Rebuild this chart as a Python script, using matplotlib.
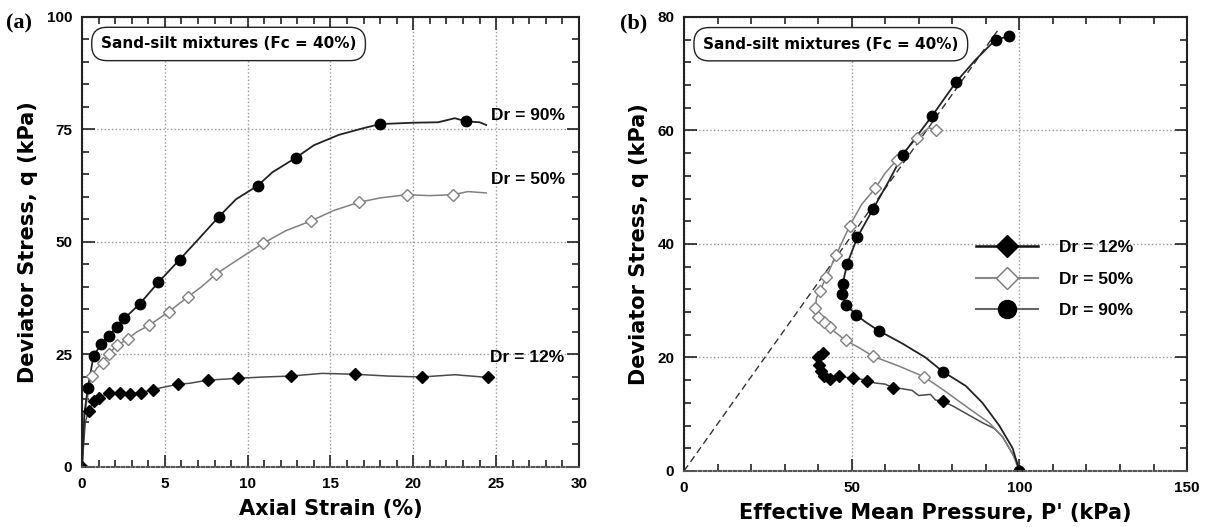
import matplotlib
matplotlib.use("Agg")
import matplotlib.pyplot as plt
from matplotlib.lines import Line2D
from matplotlib.ticker import MultipleLocator

plt.rcParams['font.family'] = ['Liberation Sans', 'DejaVu Sans']
plt.rcParams['font.weight'] = 'bold'

# ---- (a) stress-strain curves ----
# Dr = 90 %
a90_x = [0, 0.15, 0.35, 0.7, 1.16, 1.63, 2.1, 2.56, 3.5, 4.6, 5.9, 7.0, 8.26, 9.3, 10.6, 11.5,
         12.9, 14.0, 15.5, 17.0, 18.0, 20.0, 21.5, 22.5, 23.2, 24.0, 24.4]
a90_y = [0, 12, 17.6, 24.7, 27.3, 29.2, 31.1, 33.0, 36.3, 41.0, 46.1, 50.5, 55.6, 59.5, 62.5, 65.5,
         68.7, 71.5, 73.8, 75.3, 76.2, 76.5, 76.6, 77.5, 76.8, 76.6, 76.0]
a90_mx = [0.35, 0.7, 1.16, 1.63, 2.1, 2.56, 3.5, 4.6, 5.9, 8.26, 10.6, 12.9, 18.0, 23.2]
a90_my = [17.6, 24.7, 27.3, 29.2, 31.1, 33.0, 36.3, 41.0, 46.1, 55.6, 62.5, 68.7, 76.2, 76.8]
# Dr = 50 %
a50_x = [0, 0.15, 0.58, 0.9, 1.28, 1.6, 2.1, 2.8, 3.3, 4.07, 5.23, 6.4, 7.2, 8.1, 9.5, 10.93,
         12.3, 13.84, 15.2, 16.7, 18.0, 19.6, 21.0, 22.4, 23.3, 24.4]
a50_y = [0, 12, 20.2, 22.0, 23.2, 25.1, 27.0, 28.5, 30.0, 31.5, 34.5, 37.8, 40.0, 42.9, 46.3, 49.7,
         52.5, 54.7, 57.0, 58.8, 59.8, 60.5, 60.3, 60.5, 61.2, 60.9]
a50_mx = [0.58, 1.28, 1.6, 2.1, 2.8, 4.07, 5.23, 6.4, 8.1, 10.93, 13.84, 16.7, 19.6, 22.4]
a50_my = [20.2, 23.2, 25.1, 27.0, 28.5, 31.5, 34.5, 37.8, 42.9, 49.7, 54.7, 58.8, 60.5, 60.5]
# Dr = 12 %
a12_x = [0, 0.2, 0.4, 0.7, 1.05, 1.63, 2.3, 2.9, 3.56, 4.26, 5.8, 6.5, 7.6, 9.4, 11.0, 12.6,
         14.5, 16.5, 18.5, 20.5, 22.5, 24.5]
a12_y = [0, 10, 12.4, 14.6, 15.4, 16.5, 16.5, 16.3, 16.5, 17.2, 18.4, 18.6, 19.3, 19.7, 20.0, 20.2,
         20.8, 20.6, 20.2, 20.0, 20.5, 19.9]
a12_mx = [0, 0.4, 0.7, 1.05, 1.63, 2.3, 2.9, 3.56, 4.26, 5.8, 7.6, 9.4, 12.6, 16.5, 20.5, 24.5]
a12_my = [0, 12.4, 14.6, 15.4, 16.5, 16.5, 16.3, 16.5, 17.2, 18.4, 19.3, 19.7, 20.2, 20.6, 19.9, 19.9]

# ---- (b) stress paths ----
b90_p = [100, 98, 94, 89, 84, 77.2, 72, 65, 58.1, 54, 51.4, 48.2, 47.0, 47.3, 48.6, 51.7, 56.4,
         61, 65.2, 73.9, 81.2, 87, 92.9, 97.0]
b90_q = [0, 4, 8, 12, 15, 17.5, 20, 22.5, 24.7, 26.3, 27.5, 29.3, 31.1, 32.9, 36.4, 41.2, 46.2,
         51, 55.7, 62.5, 68.6, 72.5, 76.0, 76.6]
b90_mp = [100, 77.2, 58.1, 51.4, 48.2, 47.0, 47.3, 48.6, 51.7, 56.4, 65.2, 73.9, 81.2, 92.9, 97.0]
b90_mq = [0, 17.5, 24.7, 27.5, 29.3, 31.1, 32.9, 36.4, 41.2, 46.2, 55.7, 62.5, 68.6, 76.0, 76.6]

b50_p = [100, 98, 95, 91, 85, 78, 71.6, 64, 56.4, 52, 48.2, 45, 43.5, 41.8, 40.0, 39.2, 39.5,
         40.6, 42.4, 45.3, 49.4, 53, 57.0, 60, 63.4, 69.5, 73, 75.1]
b50_q = [0, 3, 6, 8.5, 11, 14, 16.6, 18.5, 20.2, 21.8, 23.0, 24.5, 25.3, 26.2, 27.1, 28.7, 30.5,
         31.8, 34.1, 38.0, 43.2, 47, 49.8, 52.5, 54.8, 58.7, 60.5, 60.0]
b50_mp = [71.6, 56.4, 48.2, 43.5, 41.8, 40.0, 39.2, 40.6, 42.4, 45.3, 49.4, 57.0, 63.4, 69.5, 75.1]
b50_mq = [16.6, 20.2, 23.0, 25.3, 26.2, 27.1, 28.7, 31.8, 34.1, 38.0, 43.2, 49.8, 54.8, 58.7, 60.0]

b12_p = [100, 99, 97, 95, 92.5, 89, 86, 83, 80, 77.1, 75, 73.5, 70, 68, 65, 62.2, 60, 57, 54.6,
         52, 50.5, 48, 46.1, 43.5, 41.8, 40.9, 40.2, 40.0, 41.4, 42.0]
b12_q = [0, 2, 4, 6, 7.5, 8.5, 9.5, 10.5, 11.5, 12.3, 12.5, 13.5, 13.3, 14.2, 14.5, 14.7, 15.3,
         15.5, 15.9, 16.3, 16.4, 16.5, 16.7, 16.2, 16.8, 17.7, 18.6, 20.1, 20.8, 21.2]
b12_mp = [100, 77.1, 62.2, 54.6, 50.5, 46.1, 43.5, 41.8, 40.9, 40.2, 40.0, 41.4]
b12_mq = [0, 12.3, 14.7, 15.9, 16.4, 16.7, 16.2, 16.8, 17.7, 18.6, 20.1, 20.8]

csl_p = [0, 94]
csl_q = [0, 78]

box_text = "Sand-silt mixtures (Fc = 40%)"
dr_labels = ["Dr = 12%", "Dr = 50%", "Dr = 90%"]

c90, c50, c12 = '#222222', '#808080', '#4a4a4a'

fig = plt.figure(figsize=(12.13, 5.27), dpi=100)
ax1 = fig.add_axes([0.0676, 0.1139, 0.4097, 0.8539])
ax2 = fig.add_axes([0.5639, 0.1063, 0.4147, 0.8615])


def style_axes(ax, xmaj, xmin, ymaj, ymin):
    ax.xaxis.set_major_locator(MultipleLocator(xmaj))
    ax.xaxis.set_minor_locator(MultipleLocator(xmin))
    ax.yaxis.set_major_locator(MultipleLocator(ymaj))
    ax.yaxis.set_minor_locator(MultipleLocator(ymin))
    ax.tick_params(which='both', direction='in', top=True, right=True, width=1.2, color='#222')
    ax.tick_params(which='major', length=9, pad=7, labelsize=11)
    ax.tick_params(which='minor', length=5)
    ax.grid(True, which='major', linestyle=':', color='#999999', linewidth=1)
    ax.set_axisbelow(True)
    for s in ['left', 'right', 'top']:
        ax.spines[s].set_linewidth(1.5)
        ax.spines[s].set_color('#222')
    ax.spines['bottom'].set_linestyle((0, (1.2, 1.2)))
    ax.spines['bottom'].set_color('#555')
    ax.spines['bottom'].set_linewidth(1.5)
    for lab in ax.get_xticklabels() + ax.get_yticklabels():
        lab.set_fontweight('bold')
    ax.text(0.038, 0.94, box_text, transform=ax.transAxes, fontsize=11, fontweight='bold',
            family='DejaVu Sans', va='center', ha='left',
            bbox=dict(boxstyle='round,pad=0.6,rounding_size=1.0', fc='white', ec='#222', lw=1))


# panel (a)
ax1.plot(a12_x, a12_y, color=c12, lw=1.1)
ax1.plot(a50_x, a50_y, color=c50, lw=1.1)
ax1.plot(a90_x, a90_y, color=c90, lw=1.3)
ax1.plot(a12_mx, a12_my, 'D', color='black', ms=6.5, ls='none')
ax1.plot(a50_mx, a50_my, 'D', mfc='white', mec=c50, mew=1, ms=6.5, ls='none')
ax1.plot(a90_mx, a90_my, 'o', color='black', ms=7.5, ls='none')
ax1.set_xlim(0, 30)
ax1.set_ylim(0, 100)
style_axes(ax1, 5, 1, 25, 5)
ax1.set_xlabel("Axial Strain (%)", fontsize=15, fontweight='bold', family='DejaVu Sans', labelpad=6)
ax1.set_ylabel("Deviator Stress, q (kPa)", fontsize=15, fontweight='bold', family='DejaVu Sans',
               labelpad=6)
ax1.text(26.9, 78.2, dr_labels[2], fontsize=12.5, fontweight='bold', ha='center', va='center')
ax1.text(26.9, 63.8, dr_labels[1], fontsize=12.5, fontweight='bold', ha='center', va='center')
ax1.text(26.9, 24.4, dr_labels[0], fontsize=12.5, fontweight='bold', ha='center', va='center')

# panel (b)
ax2.plot(csl_p, csl_q, color='#333', lw=1, dashes=(5, 3))
ax2.plot(b12_p, b12_q, color=c12, lw=1.1)
ax2.plot(b50_p, b50_q, color=c50, lw=1.1)
ax2.plot(b90_p, b90_q, color=c90, lw=1.3)
ax2.plot(b12_mp, b12_mq, 'D', color='black', ms=6.5, ls='none')
ax2.plot(b50_mp, b50_mq, 'D', mfc='white', mec=c50, mew=1, ms=6.5, ls='none')
ax2.plot(b90_mp, b90_mq, 'o', color='black', ms=7.5, ls='none')
ax2.set_xlim(0, 150)
ax2.set_ylim(0, 80)
style_axes(ax2, 50, 10, 20, 4)
ax2.set_xlabel("Effective Mean Pressure, P' (kPa)", fontsize=15, fontweight='bold',
               family='DejaVu Sans', labelpad=6)
ax2.set_ylabel("Deviator Stress, q (kPa)", fontsize=15, fontweight='bold', family='DejaVu Sans',
               labelpad=6)

handles = [
    Line2D([], [], color='#111', lw=1.8, marker='D', ms=11, mfc='black', mec='black'),
    Line2D([], [], color='#888', lw=1.5, marker='D', ms=11, mfc='white', mec='#777', mew=1),
    Line2D([], [], color='#666', lw=1.5, marker='o', ms=13, mfc='black', mec='black'),
]
ax2.legend(handles, dr_labels, loc='center left', bbox_to_anchor=(0.58, 0.4225), frameon=False,
           handlelength=3.6, handletextpad=1.2, labelspacing=0.95,
           borderpad=0, borderaxespad=0, prop={'weight': 'bold', 'size': 12.5})

fig.text(6 / 1213, 1 - 28 / 527, "(a)", family='Liberation Serif', fontweight='bold', fontsize=16,
         ha='left', va='baseline')
fig.text(620 / 1213, 1 - 28 / 527, "(b)", family='Liberation Serif', fontweight='bold', fontsize=16,
         ha='left', va='baseline')

fig.savefig('out.png', dpi=100)
